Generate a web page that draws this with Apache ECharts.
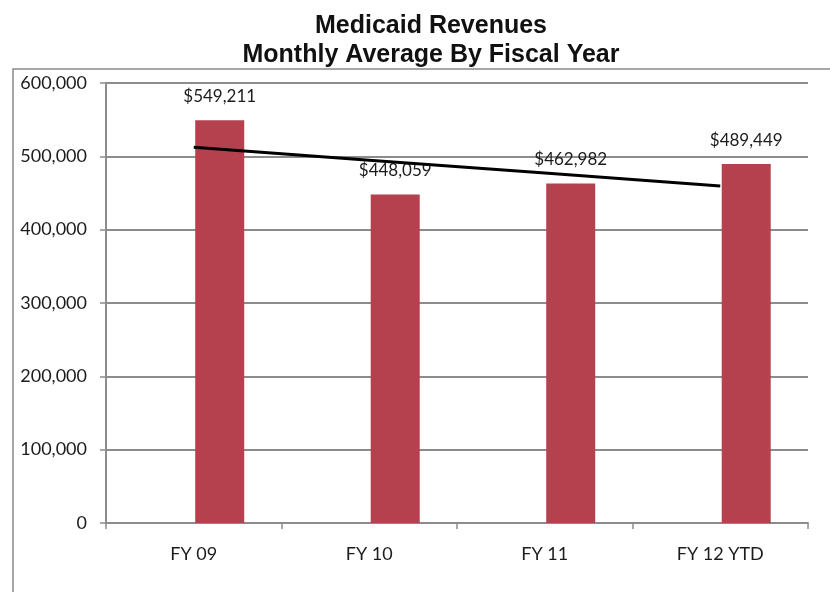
<!DOCTYPE html>
<html>
<head>
<meta charset="utf-8">
<script src="https://cdn.jsdelivr.net/npm/echarts@6/dist/echarts.min.js"></script>
<style>
  html, body { margin: 0; padding: 0; background: #fff; }
  #chart { width: 830px; height: 592px; }
</style>
</head>
<body>
<div id="chart"></div>
<script>
// Fiscal years and their average monthly Medicaid revenue
const categories = ['FY 09', 'FY 10', 'FY 11', 'FY 12 YTD'];
const revenues = [549211, 448059, 462982, 489449];
// Linear trend across the years
const trend = [512500, 494800, 477200, 459500];
// Empty companion series: keeps the bars in the right-hand slot of each year
const blank = [null, null, null, null];
const yTicks = [0, 100000, 200000, 300000, 400000, 500000, 600000];

const labelFont = 'Lato, "Open Sans", sans-serif';
const gridGray = '#8c8c8c';

function withCommas(v) {
  return String(v).replace(/\B(?=(\d{3})+(?!\d))/g, ',');
}

const chart = echarts.init(document.getElementById('chart'), null, { renderer: 'canvas' });

chart.setOption({
  backgroundColor: '#ffffff',
  animation: false,
  title: {
    text: 'Medicaid Revenues\nMonthly Average By Fiscal Year',
    left: 426,
    textAlign: 'center',
    top: 7,
    textStyle: {
      fontFamily: '"Liberation Sans", Arial, sans-serif',
      fontWeight: 'bold',
      fontSize: 25,
      lineHeight: 29,
      color: '#111'
    }
  },
  graphic: [{
    type: 'rect',
    shape: { x: 13, y: 69, width: 840, height: 600 },
    style: { fill: 'none', stroke: '#8a8a8a', lineWidth: 1.5 },
    silent: true,
    z: -1
  }],
  grid: { left: 106, right: 22, top: 83, bottom: 69 },
  xAxis: {
    type: 'category',
    data: categories,
    boundaryGap: true,
    axisLine: { show: true, lineStyle: { color: gridGray, width: 2 } },
    axisTick: { show: true, length: 6, alignWithLabel: false, lineStyle: { color: gridGray, width: 1.5 } },
    axisLabel: { margin: 22, fontFamily: labelFont, fontSize: 18, color: '#1c1c1c' },
    splitLine: { show: false }
  },
  yAxis: {
    type: 'value',
    min: yTicks[0],
    max: yTicks[yTicks.length - 1],
    interval: yTicks[1] - yTicks[0],
    axisLine: { show: true, lineStyle: { color: gridGray, width: 2 } },
    axisTick: { show: true, length: 6, lineStyle: { color: gridGray, width: 1.5 } },
    axisLabel: {
      margin: 19,
      fontFamily: labelFont,
      fontSize: 18,
      color: '#1c1c1c',
      formatter: v => withCommas(v)
    },
    splitLine: { show: true, lineStyle: { color: gridGray, width: 2 } }
  },
  series: [
    {
      name: 'spacer',
      type: 'bar',
      data: blank,
      barWidth: 49,
      barGap: '6%',
      silent: true
    },
    {
      name: 'Revenue',
      type: 'bar',
      data: revenues,
      barWidth: 49,
      barGap: '6%',
      itemStyle: { color: '#b5414f' },
      label: {
        show: true,
        position: 'top',
        distance: 15,
        fontFamily: labelFont,
        fontSize: 17,
        color: '#1c1c1c',
        formatter: p => '$' + withCommas(p.value)
      },
      z: 2
    },
    {
      name: 'Trend',
      type: 'line',
      data: trend,
      symbol: 'none',
      lineStyle: { color: '#000', width: 3 },
      z: 3
    }
  ]
});
</script>
</body>
</html>
